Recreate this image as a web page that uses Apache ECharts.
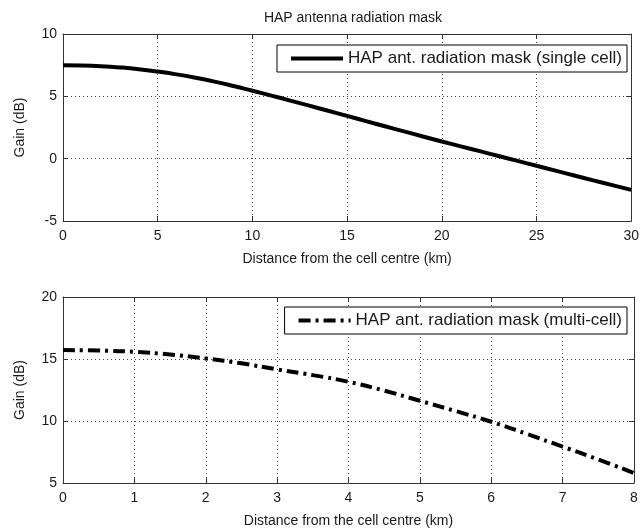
<!DOCTYPE html>
<html><head><meta charset="utf-8">
<script src="https://cdn.jsdelivr.net/npm/echarts@6/dist/echarts.min.js"></script>
<style>html,body{margin:0;padding:0;background:#fff}#c{width:642px;height:532px}</style>
</head><body><div id="c"></div>
<script>
var titleText = 'HAP antenna radiation mask';
var xName = 'Distance from the cell centre (km)';
var yName = 'Gain (dB)';
var singleName = 'HAP ant. radiation mask (single cell)';
var multiName = 'HAP ant. radiation mask (multi-cell)';
var singleX = [0,1,2,3,4,5,6,7,8,9,10,11,12,13,14,15,16,17,18,19,20,21,22,23,24,25,26,27,28,29,30];
var singleY = [7.5,7.48,7.42,7.32,7.18,6.99,6.76,6.49,6.18,5.83,5.45,5.06,4.66,4.25,3.84,3.43,3.01,2.6,2.19,1.78,1.38,0.99,0.6,0.21,-0.18,-0.57,-0.96,-1.35,-1.74,-2.12,-2.5];
var multiX = [0,0.5,1,1.5,2,2.5,3,3.5,4,4.5,5,5.5,6,6.5,7,7.5,8];
var multiY = [15.72,15.68,15.58,15.36,15.04,14.65,14.16,13.7,13.16,12.45,11.63,10.8,9.94,8.95,7.93,6.9,5.8];

var FONT = 'Liberation Sans';
var TXT = '#1a1a1a';
var multiDash = [12,5,3,5];
function pairs(xs, ys){ return xs.map(function(x,i){return [x, ys[i]];}); }

function xAx(gi, min, max, intv, pos, labels){
  return {type:'value', gridIndex:gi, min:min, max:max, interval:intv, position:pos,
    name: labels ? xName : '', nameLocation:'middle', nameGap:31,
    nameTextStyle:{fontFamily:FONT, fontSize:14, color:TXT},
    axisLine:{show:true, onZero:false, lineStyle:{color:'#333', width:1}},
    axisTick:{show:true, inside:true, length:5, lineStyle:{color:'#333'}},
    axisLabel:{show:labels, margin:8, fontFamily:FONT, fontSize:14, color:TXT},
    splitLine:{show:labels, lineStyle:{color:'#444', type:[1,3], width:1}}};
}
function yAx(gi, min, max, intv, pos, labels){
  return {type:'value', gridIndex:gi, min:min, max:max, interval:intv, position:pos,
    name: labels ? yName : '', nameLocation:'middle', nameGap:36,
    nameTextStyle:{fontFamily:FONT, fontSize:14, color:TXT},
    axisLine:{show:true, onZero:false, lineStyle:{color:'#333', width:1}},
    axisTick:{show:true, inside:true, length:5, lineStyle:{color:'#333'}},
    axisLabel:{show:labels, margin:6, fontFamily:FONT, fontSize:14, color:TXT},
    splitLine:{show:labels, lineStyle:{color:'#444', type:[1,3], width:1}}};
}
function leg(name, top, dash){
  return {data:[name], right:15, top:top, padding:[5,5,5,12], itemGap:9,
     itemWidth:52, itemHeight:14, borderColor:'#000', borderWidth:1, backgroundColor:'#fff',
     itemStyle:{opacity:0},
     lineStyle:{width:4, color:'#000', type:dash},
     textStyle:{fontFamily:FONT, fontSize:17, color:TXT}};
}

var chart = echarts.init(document.getElementById('c'), null, {renderer:'canvas'});
chart.setOption({
  backgroundColor:'#fff',
  animation:false,
  title:{text:titleText, left:348, textAlign:'center', top:6,
    textStyle:{fontFamily:FONT, fontSize:14, fontWeight:'normal', color:TXT}},
  grid:[{left:63, right:8, top:34, height:187},
        {left:63, right:8, top:297, height:186}],
  xAxis:[xAx(0,0,30,5,'bottom',true), xAx(0,0,30,5,'top',false),
         xAx(1,0,8,1,'bottom',true), xAx(1,0,8,1,'top',false)],
  yAxis:[yAx(0,-5,10,5,'left',true), yAx(0,-5,10,5,'right',false),
         yAx(1,5,20,5,'left',true), yAx(1,5,20,5,'right',false)],
  legend:[leg(singleName, 45, 'solid'), leg(multiName, 307, multiDash)],
  series:[
    {name:singleName, type:'line', xAxisIndex:0, yAxisIndex:0, data:pairs(singleX, singleY),
     smooth:true, symbol:'none', lineStyle:{color:'#000', width:4}, itemStyle:{color:'#000'}},
    {name:multiName, type:'line', xAxisIndex:2, yAxisIndex:2, data:pairs(multiX, multiY),
     smooth:true, symbol:'none', lineStyle:{color:'#000', width:4, type:multiDash}, itemStyle:{color:'#000'}}
  ]
});
</script></body></html>
